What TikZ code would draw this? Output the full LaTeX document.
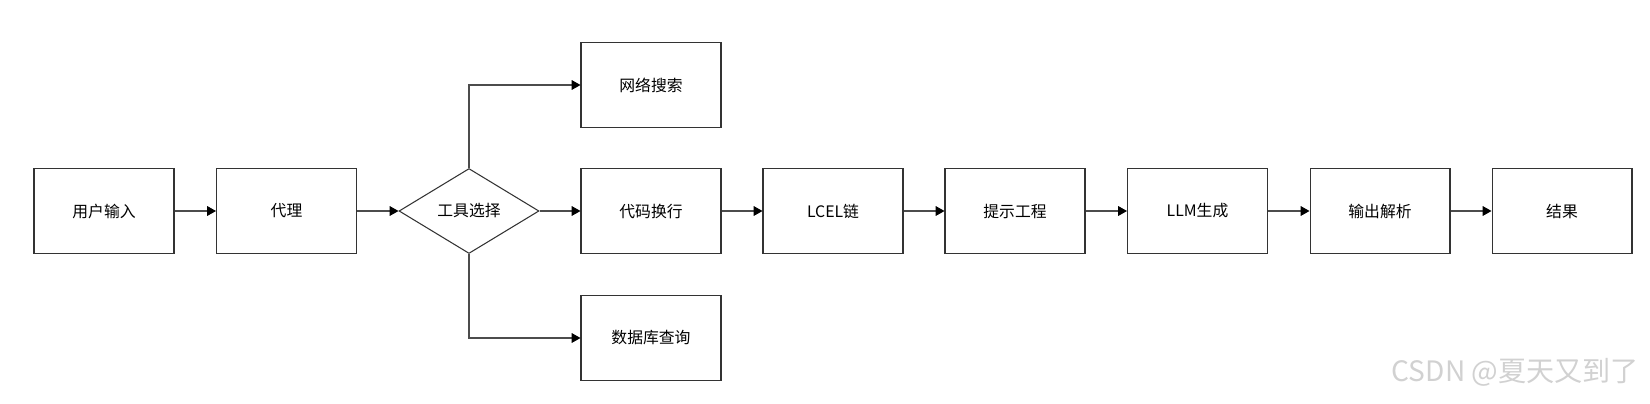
\documentclass[tikz,border=0pt]{standalone}
\usepackage{fontspec}
\setmainfont{Noto Sans CJK SC}
\usetikzlibrary{shapes.geometric,arrows.meta}

\begin{document}
\begin{tikzpicture}[x=0.02cm,y=-0.02cm,
    caixa/.style={draw=black!80, line width=0.6pt, minimum width=2.8cm,
      minimum height=1.7cm, inner sep=0pt, font=\fontsize{9}{11}\selectfont},
    losango/.style={caixa, diamond, shape aspect=1.65},
    seta/.style={draw=black!70, line width=0.6pt,
      -{Triangle[length=5pt,width=5.5pt,color=black]}}]
  % area
  \useasboundingbox (0,0) rectangle (1650,403);

  % fluxo principal
  \node[caixa] (entrada) at (104,211) {用户输入};
  \node[caixa] (agente) at (286.5,211) {代理};
  \node[losango] (ferramenta) at (469,211) {工具选择};
  \node[caixa] (codigo) at (651,211) {代码换行};
  \node[caixa] (lcel) at (833,211) {LCEL链};
  \node[caixa] (prompt) at (1015,211) {提示工程};
  \node[caixa] (llm) at (1197.5,211) {LLM生成};
  \node[caixa] (parser) at (1380,211) {输出解析};
  \node[caixa] (resultado) at (1562,211) {结果};

  % ramos
  \node[caixa] (busca) at (651,85) {网络搜索};
  \node[caixa] (banco) at (651,338) {数据库查询};

  % setas
  \foreach \a/\b in {entrada/agente, agente/ferramenta, ferramenta/codigo,
      codigo/lcel, lcel/prompt, prompt/llm, llm/parser, parser/resultado}
    \draw[seta] (\a.east) -- (\b.west);
  \draw[seta] (ferramenta.north) |- (busca.west);
  \draw[seta] (ferramenta.south) |- (banco.west);

  % marca
  \node[text=black!18, font=\fontsize{16}{18}\selectfont, anchor=east] (marca)
    at (1645,372) {CSDN @夏天又到了};
\end{tikzpicture}
\end{document}
